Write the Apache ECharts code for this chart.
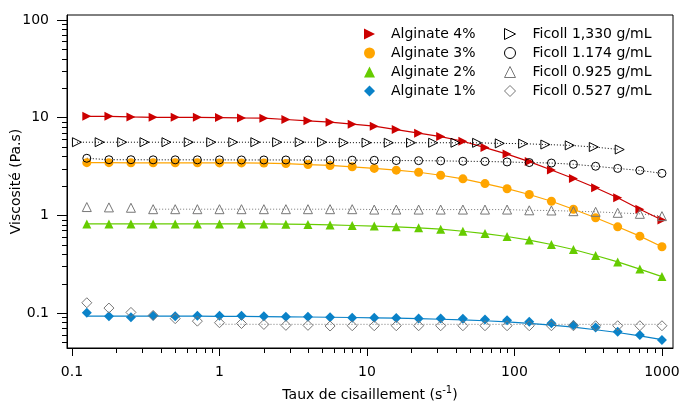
<!DOCTYPE html>
<html><head><meta charset="utf-8">
<script src="https://cdn.jsdelivr.net/npm/echarts@6/dist/echarts.min.js"></script>
<style>html,body{margin:0;padding:0;background:#fff}#c{width:680px;height:403px}</style>
</head><body><div id="c"></div>
<script>
// ---- data ----
const shearRate = [0.126, 0.178, 0.251, 0.355, 0.501, 0.708, 1, 1.41, 2, 2.82, 3.98, 5.62, 7.94, 11.2, 15.8, 22.4, 31.6, 44.7, 63.1, 89.1, 126, 178, 251, 355, 501, 708, 1000];
const alginate4 = [10.35, 10.35, 10.2, 10.1, 10.1, 10.1, 10.05, 9.95, 9.9, 9.6, 9.3, 9.0, 8.6, 8.2, 7.57, 6.95, 6.42, 5.75, 4.95, 4.25, 3.56, 2.92, 2.39, 1.92, 1.52, 1.16, 0.9];
const alginate3 = [3.47, 3.47, 3.46, 3.46, 3.46, 3.46, 3.45, 3.45, 3.44, 3.40, 3.32, 3.25, 3.15, 3.03, 2.91, 2.77, 2.58, 2.37, 2.12, 1.88, 1.64, 1.40, 1.16, 0.947, 0.766, 0.615, 0.479];
const alginate2 = [0.82, 0.82, 0.82, 0.82, 0.82, 0.82, 0.82, 0.82, 0.82, 0.815, 0.81, 0.80, 0.79, 0.78, 0.766, 0.748, 0.725, 0.69, 0.653, 0.61, 0.56, 0.505, 0.449, 0.39, 0.335, 0.283, 0.237];
const alginate1 = [0.101, 0.093, 0.091, 0.094, 0.093, 0.094, 0.094, 0.094, 0.093, 0.092, 0.092, 0.091, 0.090, 0.090, 0.0895, 0.0885, 0.0885, 0.088, 0.0865, 0.085, 0.082, 0.079, 0.076, 0.0715, 0.0647, 0.0598, 0.0533];
const alginate1Fit = [0.0935, 0.0935, 0.0935, 0.0935, 0.0935, 0.0933, 0.093, 0.0928, 0.0925, 0.092, 0.0915, 0.091, 0.0905, 0.0898, 0.089, 0.088, 0.0868, 0.0855, 0.0838, 0.0815, 0.0788, 0.0757, 0.072, 0.0678, 0.0635, 0.0588, 0.0538];

const ficoll1330Rate = [0.108, 0.154, 0.219, 0.310, 0.437, 0.619, 0.879, 1.24, 1.75, 2.46, 3.50, 4.96, 6.96, 9.93, 14.05, 19.9, 28.1, 39.8, 55.8, 79.5, 114.5, 162, 237, 345, 517];
const ficoll1330 = [5.62, 5.62, 5.62, 5.62, 5.62, 5.62, 5.62, 5.62, 5.62, 5.62, 5.62, 5.62, 5.56, 5.56, 5.55, 5.55, 5.55, 5.55, 5.54, 5.47, 5.43, 5.32, 5.22, 5.02, 4.73];
const ficoll1174 = [3.85, 3.72, 3.72, 3.71, 3.71, 3.71, 3.71, 3.70, 3.70, 3.70, 3.69, 3.69, 3.68, 3.67, 3.65, 3.64, 3.62, 3.59, 3.57, 3.53, 3.48, 3.44, 3.34, 3.19, 3.03, 2.89, 2.70];
const ficoll0925 = [1.22, 1.21, 1.20, 1.16, 1.16, 1.16, 1.16, 1.16, 1.16, 1.16, 1.16, 1.16, 1.16, 1.15, 1.15, 1.15, 1.15, 1.15, 1.15, 1.15, 1.13, 1.125, 1.107, 1.09, 1.065, 1.04, 0.985];
const ficoll0925Fit = [null, null, null, 1.16, 1.16, 1.16, 1.16, 1.16, 1.16, 1.16, 1.16, 1.16, 1.16, 1.15, 1.15, 1.15, 1.15, 1.15, 1.15, 1.15, 1.13, 1.125, 1.107, 1.09, 1.065, 1.04, 0.985];
const ficoll0527 = [0.128, 0.113, 0.102, 0.095, 0.088, 0.083, 0.080, 0.0785, 0.0768, 0.0752, 0.0752, 0.074, 0.0745, 0.0745, 0.0745, 0.0745, 0.0745, 0.0745, 0.0745, 0.0745, 0.0745, 0.0745, 0.0745, 0.0745, 0.0745, 0.0745, 0.0745];
const ficoll0527Fit = [null, null, null, null, null, null, 0.0772, 0.0771, 0.077, 0.077, 0.077, 0.077, 0.077, 0.077, 0.077, 0.077, 0.077, 0.077, 0.077, 0.077, 0.077, 0.077, 0.077, 0.077, 0.077, 0.077, 0.077];

const xMajorTicks = [0.1, 1, 10, 100, 1000];
const xMinorTicks = [0.2,0.3,0.4,0.5,0.6,0.7,0.8,0.9, 2,3,4,5,6,7,8,9, 20,30,40,50,60,70,80,90, 200,300,400,500,600,700,800,900];
const yMajorTicks = [0.1, 1, 10, 100];
const yMinorTicks = [0.05,0.06,0.07,0.08,0.09, 0.2,0.3,0.4,0.5,0.6,0.7,0.8,0.9, 2,3,4,5,6,7,8,9, 20,30,40,50,60,70,80,90];

const alginateNames = ['Alginate 4%', 'Alginate 3%', 'Alginate 2%', 'Alginate 1%'];
const ficollNames = ['Ficoll 1,330 g/mL', 'Ficoll 1.174 g/mL', 'Ficoll 0.925 g/mL', 'Ficoll 0.527 g/mL'];

// ---- chart ----
const FONT = 'DejaVu Sans';
const fmt = v => String(+Number(v).toPrecision(6));
const pairs = (xs, ys) => xs.map((x, i) => [x, ys[i]]).filter(p => p[1] != null);
const X_MIN = 0.0925, X_MAX = 1188, Y_MIN = 0.0441, Y_MAX = 112.5;
const RIGHT_TRI = 'path://M0,0L10,5L0,10Z';

function markers(name, xs, ys, symbol, size, style, rotate, z) {
  return { name, type: 'scatter', data: pairs(xs, ys), symbol, symbolSize: size,
    symbolRotate: rotate || 0, itemStyle: Object.assign({ opacity: 1 }, style), z: z, silent: true, clip: false };
}
function fitLine(xs, ys, color, dashed, z) {
  return { type: 'line', data: pairs(xs, ys), showSymbol: false, symbol: 'none',
    lineStyle: { color, width: dashed ? 1 : 1.2, type: dashed ? [1, 2] : 'solid' },
    z: z, silent: true, animation: false };
}
const RED = '#cc0000', ORANGE = '#ffa500', GREEN = '#66cc00', BLUE = '#0a82c8', GRAY = '#777777';
const hollow = c => ({ color: 'rgba(0,0,0,0)', borderColor: c, borderWidth: 1 });

const legendAlg = [
  { name: alginateNames[0], icon: RIGHT_TRI, itemStyle: { color: RED, borderWidth: 0, opacity: 1 } },
  { name: alginateNames[1], icon: 'circle', itemStyle: { color: ORANGE, borderWidth: 0, opacity: 1 } },
  { name: alginateNames[2], icon: 'triangle', itemStyle: { color: GREEN, borderWidth: 0, opacity: 1 } },
  { name: alginateNames[3], icon: 'diamond', itemStyle: { color: BLUE, borderWidth: 0, opacity: 1 } }
];
const legendFic = [
  { name: ficollNames[0], icon: RIGHT_TRI, itemStyle: Object.assign({ opacity: 1 }, hollow('#000')) },
  { name: ficollNames[1], icon: 'circle', itemStyle: Object.assign({ opacity: 1 }, hollow('#000')) },
  { name: ficollNames[2], icon: 'triangle', itemStyle: Object.assign({ opacity: 1 }, hollow(GRAY)) },
  { name: ficollNames[3], icon: 'diamond', itemStyle: Object.assign({ opacity: 1 }, hollow(GRAY)) }
];

const chart = echarts.init(document.getElementById('c'), null, { renderer: 'canvas' });
chart.setOption({
  animation: false,
  backgroundColor: '#fff',
  grid: { left: 67, top: 15, right: 7, bottom: 55, show: true, borderColor: '#000', borderWidth: 1,
    containLabel: false, outerBoundsMode: 'none' },
  xAxis: [
    { type: 'log', logBase: 10, min: X_MIN, max: X_MAX, position: 'bottom',
      axisLine: { show: true, lineStyle: { color: '#000', width: 1 } },
      axisTick: { show: true, length: 8, customValues: xMajorTicks, lineStyle: { color: '#000' } },
      axisLabel: { show: true, customValues: xMajorTicks, formatter: fmt, margin: 17, color: '#000', fontFamily: FONT, fontSize: 14 },
      splitLine: { show: false }, minorTick: { show: false },
      name: '{n|Taux de cisaillement (s}{sup|-1}{n|)}', nameLocation: 'middle', nameGap: 37, nameMoveOverlap: false,
      nameTextStyle: { rich: { n: { fontFamily: FONT, fontSize: 14, color: '#000' }, sup: { fontFamily: FONT, fontSize: 10, color: '#000', padding: [0, 0, 10, 0] } } } },
    { type: 'log', logBase: 10, min: X_MIN, max: X_MAX, position: 'bottom',
      axisLine: { show: false },
      axisTick: { show: true, length: 5, customValues: xMinorTicks, lineStyle: { color: '#000' } },
      axisLabel: { show: false }, splitLine: { show: false } }
  ],
  yAxis: [
    { type: 'log', logBase: 10, min: Y_MIN, max: Y_MAX, position: 'left',
      axisLine: { show: true, lineStyle: { color: '#000', width: 1 } },
      axisTick: { show: true, length: 10, customValues: yMajorTicks, lineStyle: { color: '#000' } },
      axisLabel: { show: true, customValues: yMajorTicks, formatter: fmt, margin: 18, color: '#000', fontFamily: FONT, fontSize: 14 },
      splitLine: { show: false }, minorTick: { show: false },
      name: 'Viscosité (Pa.s)', nameLocation: 'middle', nameGap: 44, nameMoveOverlap: false,
      nameTextStyle: { fontFamily: FONT, fontSize: 14, color: '#000' } },
    { type: 'log', logBase: 10, min: Y_MIN, max: Y_MAX, position: 'left',
      axisLine: { show: false },
      axisTick: { show: true, length: 5, customValues: yMinorTicks, lineStyle: { color: '#000' } },
      axisLabel: { show: false }, splitLine: { show: false } }
  ],
  legend: [
    { data: legendAlg, orient: 'vertical', left: 364, top: 27, padding: 0, itemWidth: 11, itemHeight: 11, itemGap: 5,
      textStyle: { fontFamily: FONT, fontSize: 14, color: '#000', padding: [0, 0, 0, 11] }, selectedMode: false },
    { data: legendFic, orient: 'vertical', left: 504, top: 27, padding: 0, itemWidth: 11, itemHeight: 11, itemGap: 5,
      textStyle: { fontFamily: FONT, fontSize: 14, color: '#000', padding: [0, 0, 0, 12] }, selectedMode: false }
  ],
  series: [
    fitLine(ficoll1330Rate, ficoll1330, '#000', true, 2),
    fitLine(shearRate, ficoll1174, '#000', true, 2),
    fitLine(shearRate, ficoll0925Fit, GRAY, true, 2),
    fitLine(shearRate, ficoll0527Fit, GRAY, true, 2),
    fitLine(shearRate, alginate4, RED, false, 3),
    fitLine(shearRate, alginate3, ORANGE, false, 3),
    fitLine(shearRate, alginate2, GREEN, false, 3),
    fitLine(shearRate, alginate1Fit, BLUE, false, 3),
    markers(alginateNames[0], shearRate, alginate4, 'triangle', 9, { color: RED }, -90, 5),
    markers(alginateNames[1], shearRate, alginate3, 'circle', 9, { color: ORANGE }, 0, 5),
    markers(alginateNames[2], shearRate, alginate2, 'triangle', 9, { color: GREEN }, 0, 5),
    markers(alginateNames[3], shearRate, alginate1, 'diamond', 10, { color: BLUE }, 0, 5),
    markers(ficollNames[0], ficoll1330Rate, ficoll1330, 'triangle', 9, hollow('#000'), -90, 6),
    markers(ficollNames[1], shearRate, ficoll1174, 'circle', 8, hollow('#000'), 0, 6),
    markers(ficollNames[2], shearRate, ficoll0925, 'triangle', 9, hollow(GRAY), 0, 6),
    markers(ficollNames[3], shearRate, ficoll0527, 'diamond', 10, hollow(GRAY), 0, 6)
  ]
});
</script></body></html>
